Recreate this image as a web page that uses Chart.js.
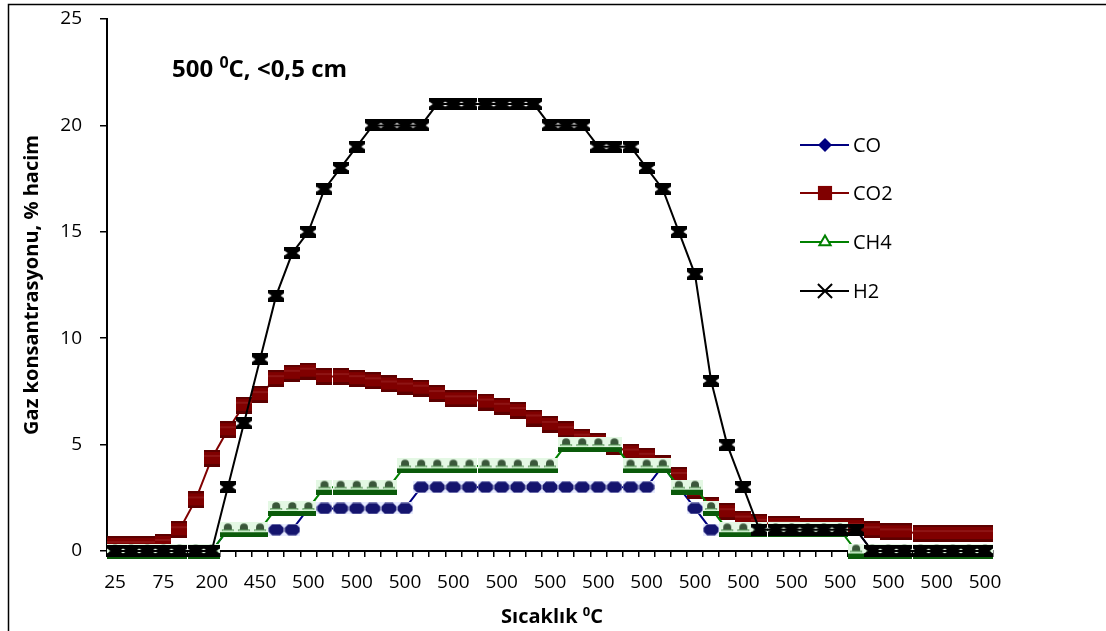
<!DOCTYPE html>
<html>
<head>
<meta charset="utf-8">
<script src="https://cdn.jsdelivr.net/npm/chart.js@4.4.0/dist/chart.umd.min.js"></script>
<style>
  html, body { margin: 0; padding: 0; background: #fff; }
</style>
</head>
<body>
<canvas id="gas_chart" width="1106" height="631"></canvas>
<script>
// sıcaklık etiketleri (her 3. etiket gösteriliyor)
const temperatures = [
  25, 50, 50, 75, 100, 150, 200, 250, 350, 450, 500, 500,
  500, 500, 500, 500, 500, 500, 500, 500, 500, 500, 500, 500,
  500, 500, 500, 500, 500, 500, 500, 500, 500, 500, 500, 500,
  500, 500, 500, 500, 500, 500, 500, 500, 500, 500, 500, 500,
  500, 500, 500, 500, 500, 500, 500
];
const coValues = [
  0, 0, 0, 0, 0, 0, 0, 1, 1, 1, 1, 1,
  2, 2, 2, 2, 2, 2, 2, 3, 3, 3, 3, 3,
  3, 3, 3, 3, 3, 3, 3, 3, 3, 3, 4, 3,
  2, 1, 1, 1, 1, 1, 1, 1, 1, 1, 1, 0,
  0, 0, 0, 0, 0, 0, 0
];
const co2Values = [
  0.3, 0.3, 0.3, 0.4, 1.0, 2.4, 4.35, 5.7, 6.85, 7.35, 8.1, 8.35,
  8.45, 8.2, 8.2, 8.1, 8.0, 7.85, 7.75, 7.65, 7.4, 7.15, 7.15, 7.0,
  6.8, 6.6, 6.25, 5.95, 5.7, 5.35, 5.15, 4.9, 4.65, 4.45, 4.1, 3.55,
  2.85, 2.15, 1.85, 1.5, 1.35, 1.25, 1.25, 1.15, 1.15, 1.15, 1.15, 1.0,
  0.9, 0.9, 0.82, 0.82, 0.82, 0.82, 0.82
];
const ch4Values = [
  0, 0, 0, 0, 0, 0, 0, 1, 1, 1, 2, 2,
  2, 3, 3, 3, 3, 3, 4, 4, 4, 4, 4, 4,
  4, 4, 4, 4, 5, 5, 5, 5, 4, 4, 4, 3,
  3, 2, 1, 1, 1, 1, 1, 1, 1, 1, 0, 0,
  0, 0, 0, 0, 0, 0, 0
];
const h2Values = [
  0, 0, 0, 0, 0, 0, 0, 3, 6, 9, 12, 14,
  15, 17, 18, 19, 20, 20, 20, 20, 21, 21, 21, 21,
  21, 21, 21, 20, 20, 20, 19, 19, 19, 18, 17, 15,
  13, 8, 5, 3, 1, 1, 1, 1, 1, 1, 1, 0,
  0, 0, 0, 0, 0, 0, 0
];
const yTicks = [0, 5, 10, 15, 20, 25];

const FONT = "'Open Sans', 'Liberation Sans', sans-serif";

// işaretçiler (resimdeki blok görünüşlü noktalar)
const makeMarker = (w, h, paint) => {
  const c = document.createElement("canvas");
  c.width = w;
  c.height = h;
  paint(c.getContext("2d"));
  return c;
};

const coMarker = makeMarker(16, 12, (g) => {
  g.fillStyle = "#e8ecff";
  g.fillRect(0, 0, 16, 12);
  g.fillStyle = "#14146e";
  g.beginPath();
  g.moveTo(4, 0.5); g.lineTo(12, 0.5); g.lineTo(15.5, 4); g.lineTo(15.5, 8);
  g.lineTo(12, 11.5); g.lineTo(4, 11.5); g.lineTo(0.5, 8); g.lineTo(0.5, 4);
  g.closePath();
  g.fill();
});

const co2Marker = makeMarker(16, 17, (g) => {
  g.fillStyle = "#800000";
  g.fillRect(0, 0, 16, 17);
  g.fillStyle = "#5c0000";
  g.fillRect(0, 0, 16, 2);
  g.fillRect(0, 14, 16, 3);
  g.fillStyle = "#8e1414";
  g.fillRect(0, 5, 16, 2);
});

const ch4Marker = makeMarker(16, 15, (g) => {
  g.fillStyle = "#e4f8e4";
  g.fillRect(0, 0, 16, 15);
  g.fillStyle = "#3a573a";
  g.beginPath();
  g.ellipse(8, 5, 4, 3.8, 0, Math.PI, 0);
  g.lineTo(12, 7.5);
  g.lineTo(4, 7.5);
  g.closePath();
  g.fill();
  g.fillStyle = "#0e5e0e";
  g.fillRect(2, 7.5, 12, 1);
  g.fillStyle = "#d2f6d2";
  g.fillRect(3, 8.5, 10, 1.5);
  g.fillStyle = "#0a5a0a";
  g.fillRect(0, 10, 16, 5);
});

const h2Marker = makeMarker(16, 12, (g) => {
  g.fillStyle = "#000";
  g.beginPath();
  g.moveTo(0, 0); g.lineTo(16, 0); g.lineTo(16, 3.5); g.lineTo(12.5, 6);
  g.lineTo(16, 8.5); g.lineTo(16, 12); g.lineTo(0, 12); g.lineTo(0, 8.5);
  g.lineTo(3.5, 6); g.lineTo(0, 3.5);
  g.closePath();
  g.fill();
});

const drawSupText = (ctx, pieces, x, y, size, align) => {
  const supSize = Math.round(size * 0.66);
  let total = 0;
  pieces.forEach((p) => {
    ctx.font = `bold ${p.sup ? supSize : size}px ${FONT}`;
    total += ctx.measureText(p.text).width;
  });
  let cx = align === "center" ? x - total / 2 : x;
  ctx.textAlign = "left";
  ctx.textBaseline = "alphabetic";
  pieces.forEach((p) => {
    ctx.font = `bold ${p.sup ? supSize : size}px ${FONT}`;
    ctx.fillText(p.text, cx, p.sup ? y - size * 0.36 : y);
    cx += ctx.measureText(p.text).width;
  });
};

const decorations = {
  id: "decorations",
  afterDraw(chart) {
    const { ctx } = chart;
    ctx.save();

    // dış çerçeve
    ctx.strokeStyle = "#000";
    ctx.lineWidth = 1.5;
    ctx.strokeRect(8.5, 4.5, 1200, 700);

    ctx.fillStyle = "#000";
    drawSupText(ctx, [
      { text: "500 " }, { text: "0", sup: true }, { text: "C, <0,5 cm" },
    ], 172, 77, 24, "left");

    drawSupText(ctx, [
      { text: "Sıcaklık " }, { text: "0", sup: true }, { text: "C" },
    ], 552, 623, 20, "center");

    // lejant
    const rowY = [145, 193, 242, 291];
    chart.data.datasets.forEach((ds, i) => {
      const y = rowY[i];
      ctx.strokeStyle = ds.borderColor;
      ctx.lineWidth = 2;
      ctx.beginPath();
      ctx.moveTo(800, y);
      ctx.lineTo(849, y);
      ctx.stroke();
      const lg = ds.legendPoint;
      ctx.fillStyle = lg.fill;
      ctx.strokeStyle = ds.borderColor;
      Chart.helpers.drawPoint(ctx, {
        pointStyle: lg.style, radius: lg.radius, borderWidth: lg.border, rotation: 0,
      }, 825, y);
      ctx.fillStyle = "#000";
      ctx.font = `20px ${FONT}`;
      ctx.textAlign = "left";
      ctx.textBaseline = "middle";
      ctx.fillText(ds.label, 853, y + 1);
    });
    ctx.restore();
  },
};

const lineSet = (label, data, color, marker, order, legendPoint) => ({
  label,
  data,
  borderColor: color,
  backgroundColor: color,
  borderWidth: 2,
  pointStyle: marker,
  pointRadius: 8,
  pointHoverRadius: 8,
  tension: 0,
  clip: false,
  order,
  legendPoint,
});

new Chart(document.getElementById("gas_chart"), {
  type: "line",
  data: {
    labels: temperatures,
    datasets: [
      lineSet("CO", coValues, "#000080", coMarker, 4,
        { style: "rectRot", radius: 7, border: 0, fill: "#000080" }),
      lineSet("CO2", co2Values, "#800000", co2Marker, 3,
        { style: "rect", radius: 10, border: 0, fill: "#800000" }),
      lineSet("CH4", ch4Values, "#008000", ch4Marker, 2,
        { style: "triangle", radius: 6.5, border: 2, fill: "#fff" }),
      lineSet("H2", h2Values, "#000000", h2Marker, 1,
        { style: "crossRot", radius: 10, border: 2, fill: "#000" }),
    ],
  },
  options: {
    responsive: false,
    animation: false,
    devicePixelRatio: 1,
    layout: { padding: { top: 19, right: 113, left: 0, bottom: 0 } },
    plugins: {
      legend: { display: false },
      tooltip: { enabled: false },
    },
    scales: {
      x: {
        offset: true,
        grid: {
          offset: true,
          drawOnChartArea: false,
          tickLength: 6,
          color: "#000",
          lineWidth: 1.5,
        },
        border: { color: "#000", width: 2 },
        ticks: {
          autoSkip: false,
          maxRotation: 0,
          padding: 14,
          color: "#000",
          font: { family: FONT, size: 19 },
          callback: (value, index) => (index % 3 === 0 ? temperatures[index] : ""),
        },
        afterFit: (scale) => { scale.height = 80; },
      },
      y: {
        min: 0,
        max: 25,
        afterBuildTicks: (scale) => { scale.ticks = yTicks.map((v) => ({ value: v })); },
        grid: {
          drawOnChartArea: false,
          tickLength: 7,
          color: "#000",
          lineWidth: 1.5,
        },
        border: { color: "#000", width: 2 },
        ticks: {
          padding: 18,
          color: "#000",
          font: { family: FONT, size: 19 },
        },
        title: {
          display: true,
          text: "Gaz konsantrasyonu, % hacim",
          color: "#000",
          font: { family: FONT, size: 20, weight: "bold" },
          padding: { top: 20, bottom: 0 },
        },
        afterFit: (scale) => {
          scale.width = 107;
          scale.paddingTop = 0;
          scale.paddingBottom = 0;
        },
      },
    },
  },
  plugins: [decorations],
});
</script>
</body>
</html>
